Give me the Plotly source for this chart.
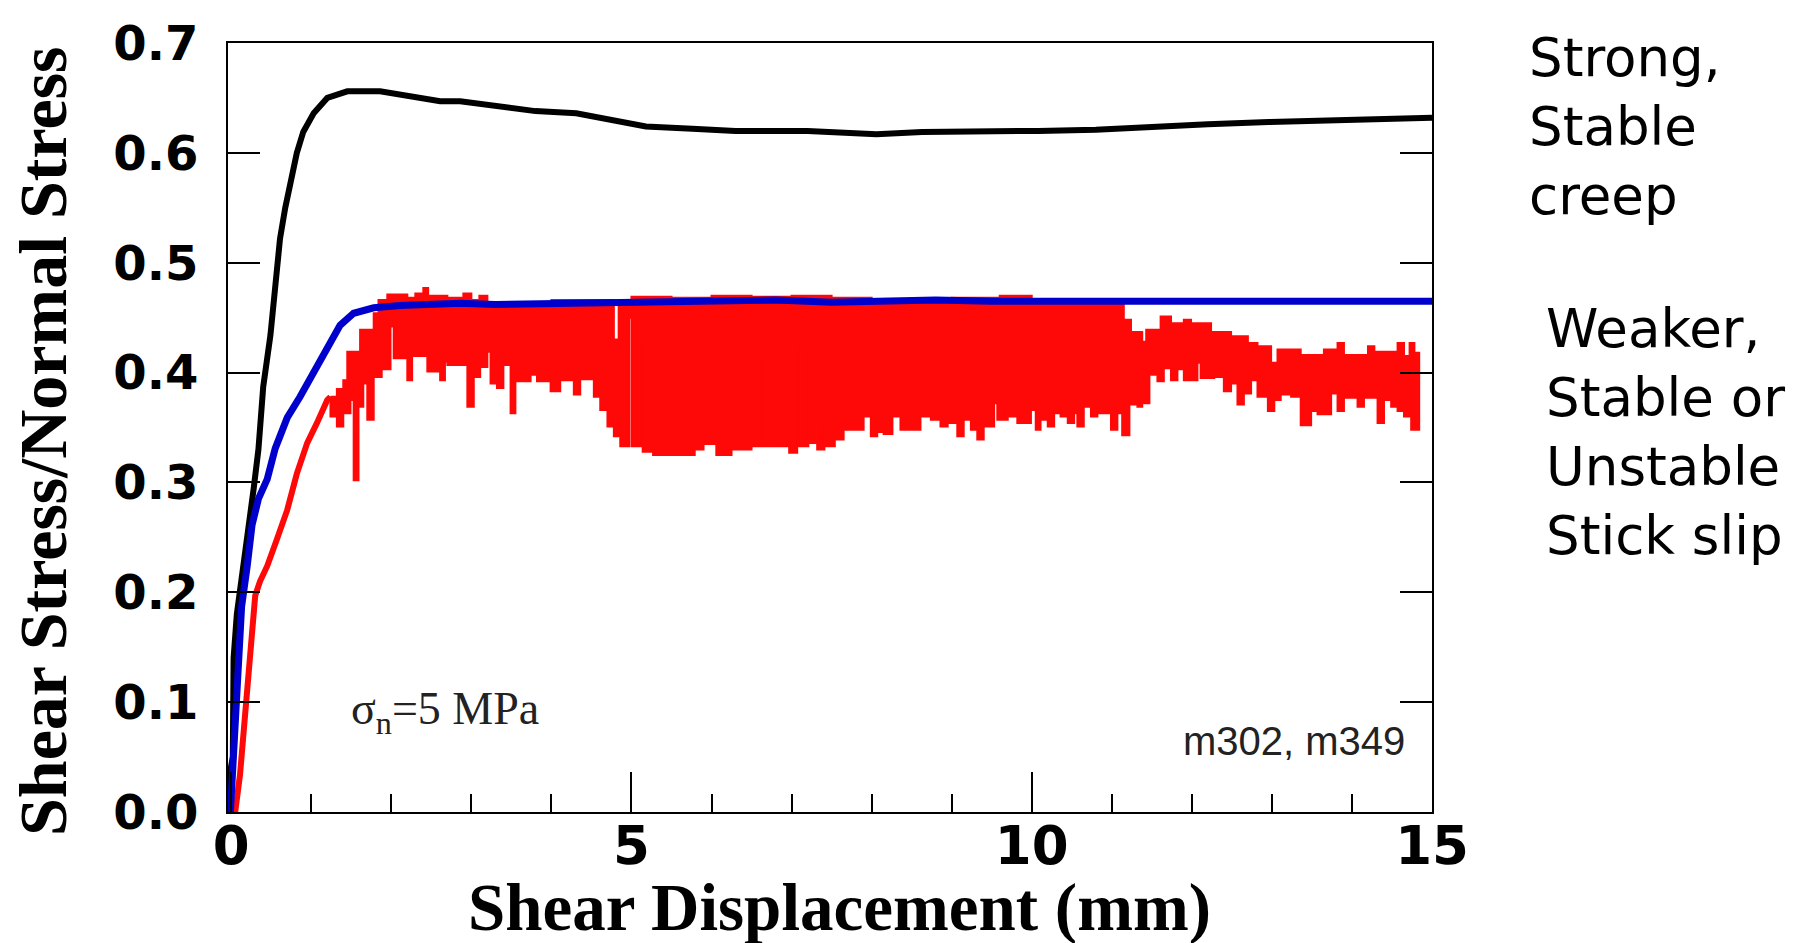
import plotly.graph_objects as go

# ---- data (shear displacement in mm, friction = shear stress / normal stress) ----
# Strong, stable-creep sample (black)
strong_x = [-0.03, -0.03, 0.02, 0.03, 0.07, 0.13, 0.24, 0.28, 0.34, 0.40, 0.49, 0.55,
            0.61, 0.675, 0.74, 0.82, 0.90, 1.03, 1.20, 1.45, 1.86, 2.2, 2.61, 2.86,
            3.43, 3.8, 4.31, 4.75, 5.18, 5.76, 6.3, 7.2, 8.06, 8.63, 9.5, 10.08,
            10.8, 11.5, 12.2, 12.96, 13.7, 14.4, 15.0]
strong_y = [0.0, 0.03, 0.05, 0.14, 0.18, 0.21, 0.266, 0.294, 0.33, 0.387, 0.434, 0.48,
            0.522, 0.55, 0.573, 0.60, 0.619, 0.636, 0.65, 0.656, 0.656, 0.652, 0.647, 0.647,
            0.642, 0.638, 0.636, 0.630, 0.624, 0.622, 0.62, 0.62, 0.617, 0.619, 0.619, 0.62,
            0.621, 0.624, 0.626, 0.628, 0.629, 0.631, 0.632]

# Weaker, stable sample (blue)
stable_x = [-0.01, 0.03, 0.07, 0.13, 0.2, 0.26, 0.34, 0.45, 0.55, 0.70, 0.86, 1.03,
            1.20, 1.36, 1.53, 1.78, 2.11, 2.5, 2.86, 3.3, 4.0, 4.6, 5.0, 5.6, 6.0,
            6.8, 7.5, 8.0, 8.8, 9.5, 10.0, 10.9, 11.5, 12.0, 12.8, 13.5, 14.2, 15.0]
stable_y = [0.0, 0.062, 0.108, 0.187, 0.224, 0.261, 0.285, 0.303, 0.331, 0.359, 0.378, 0.40,
            0.424, 0.443, 0.454, 0.459, 0.461, 0.462, 0.463, 0.462, 0.463, 0.464, 0.464, 0.465, 0.465,
            0.466, 0.464, 0.465, 0.466, 0.465, 0.465, 0.466, 0.465, 0.465, 0.466, 0.465, 0.465, 0.465]

# Stick-slip sample (red): initial loading curve
slip_load_x = [0.0, 0.05, 0.11, 0.175, 0.24, 0.30, 0.36, 0.45, 0.57, 0.70, 0.82, 0.95,
               1.07, 1.20, 1.24]
slip_load_y = [0.0, 0.0, 0.034, 0.094, 0.155, 0.197, 0.21, 0.224, 0.248, 0.275, 0.308, 0.336,
               0.354, 0.375, 0.378]

# Stick-slip band: peak (stick) level per displacement interval
slip_peak_start = [1.24, 1.32, 1.40, 1.45, 1.61, 1.78, 1.84, 1.95, 2.2, 2.3, 2.4, 2.46,
                   2.7, 2.9, 3.0, 3.1, 3.2, 4.0, 4.78, 4.84, 5.0, 5.5, 6.0, 6.5, 7.0,
                   7.5, 8.0, 9.0, 9.6, 10.0, 11.15, 11.24, 11.38, 11.43, 11.61, 11.74,
                   11.9, 11.99, 12.24, 12.49, 12.7, 12.82, 12.99, 13.07, 13.36, 13.65,
                   13.82, 13.9, 14.2, 14.28, 14.57, 14.65, 14.72, 14.78]
slip_peak = [0.378, 0.385, 0.393, 0.419, 0.439, 0.454, 0.466, 0.471, 0.468, 0.472, 0.477, 0.47,
             0.468, 0.472, 0.466, 0.47, 0.464, 0.466, 0.43, 0.466, 0.469, 0.468, 0.47, 0.469, 0.47,
             0.468, 0.466, 0.468, 0.47, 0.466, 0.448, 0.437, 0.428, 0.439, 0.451, 0.445,
             0.448, 0.445, 0.437, 0.433, 0.427, 0.424, 0.409, 0.421, 0.416, 0.421,
             0.427, 0.416, 0.424, 0.419, 0.427, 0.415, 0.427, 0.418]

# Stick-slip band: lowest post-slip level per displacement interval
slip_drop_start = [1.24, 1.32, 1.40, 1.49, 1.53, 1.59, 1.61, 1.65, 1.70, 1.78, 1.88, 1.99,
                   2.03, 2.2, 2.26, 2.45, 2.61, 2.67, 2.7, 2.95, 3.03, 3.11, 3.2, 3.24,
                   3.32, 3.4, 3.49, 3.55, 3.74, 3.82, 3.99, 4.11, 4.28, 4.36, 4.53, 4.61,
                   4.7, 4.78, 4.86, 4.97, 5.0, 5.12, 5.14, 5.25, 5.27, 5.58, 5.60, 5.79,
                   5.81, 5.9, 5.92, 6.04, 6.06, 6.25, 6.27, 6.36, 6.38, 6.5, 6.52, 6.62,
                   6.64, 6.82, 6.84, 6.95, 6.97, 7.07, 7.09, 7.21, 7.23, 7.32, 7.41, 7.43,
                   7.54, 7.56, 7.65, 7.9, 7.99, 8.07, 8.15, 8.26, 8.36, 8.61, 8.74, 8.86,
                   8.95, 9.07, 9.15, 9.24, 9.32, 9.4, 9.53, 9.57, 9.7, 9.82, 9.99, 10.05,
                   10.11, 10.2, 10.28, 10.36, 10.45, 10.53, 10.57, 10.65, 10.74, 10.82,
                   10.99, 11.07, 11.13, 11.22, 11.32, 11.38, 11.47, 11.57, 11.65, 11.74,
                   11.82, 11.9, 12.07, 12.11, 12.28, 12.4, 12.49, 12.57, 12.65, 12.74,
                   12.82, 12.95, 13.03, 13.11, 13.24, 13.36, 13.49, 13.57, 13.74, 13.82,
                   13.9, 14.07, 14.15, 14.32, 14.4, 14.49, 14.57, 14.65, 14.74]
slip_drop = [0.36, 0.351, 0.363, 0.375, 0.302, 0.375, 0.369, 0.39, 0.357, 0.396, 0.403, 0.442,
             0.413, 0.393, 0.415, 0.401, 0.393, 0.41, 0.407, 0.369, 0.396, 0.405, 0.419, 0.39,
             0.386, 0.407, 0.363, 0.392, 0.398, 0.392, 0.383, 0.393, 0.38, 0.394, 0.378, 0.366,
             0.351, 0.342, 0.333, 0.45, 0.333, 0.428, 0.328, 0.372, 0.325, 0.387, 0.325, 0.366,
             0.33, 0.387, 0.335, 0.412, 0.325, 0.372, 0.33, 0.387, 0.33, 0.39, 0.333, 0.415,
             0.333, 0.343, 0.333, 0.409, 0.327, 0.424, 0.333, 0.421, 0.336, 0.33, 0.357, 0.333,
             0.418, 0.339, 0.348, 0.36, 0.342, 0.346, 0.344, 0.36, 0.348, 0.36, 0.357, 0.351,
             0.354, 0.342, 0.357, 0.348, 0.339, 0.351, 0.372, 0.357, 0.36, 0.354, 0.366, 0.348,
             0.357, 0.351, 0.363, 0.36, 0.354, 0.363, 0.351, 0.369, 0.36, 0.363,
             0.348, 0.363, 0.343, 0.371, 0.369, 0.372, 0.398, 0.392, 0.404, 0.393,
             0.403, 0.393, 0.409, 0.395, 0.396, 0.383, 0.39, 0.371, 0.381, 0.393,
             0.378, 0.365, 0.375, 0.38, 0.378, 0.352, 0.365, 0.362, 0.381, 0.365,
             0.377, 0.369, 0.377, 0.354, 0.375, 0.369, 0.365, 0.36, 0.348]
slip_end = 14.84

x_ticks = [0, 5, 10, 15]
y_ticks = [0.0, 0.1, 0.2, 0.3, 0.4, 0.5, 0.6, 0.7]

BLACK = "#000000"
BLUE = "#0000CD"
RED = "#FF0808"


def step_outline(starts, values, end):
    """Turn interval starts + levels into a piecewise-constant outline."""
    xs, ys = [], []
    stops = list(starts[1:]) + [end]
    for s, e, v in zip(starts, stops, values):
        xs += [s, e]
        ys += [v, v]
    return xs, ys


top_x, top_y = step_outline(slip_peak_start, slip_peak, slip_end)
bot_x, bot_y = step_outline(slip_drop_start, slip_drop, slip_end)
band_x = top_x + bot_x[::-1] + [top_x[0]]
band_y = top_y + bot_y[::-1] + [top_y[0]]

fig = go.Figure()

fig.add_trace(go.Scatter(x=band_x, y=band_y, mode="lines", fill="toself",
                         fillcolor=RED, line=dict(color=RED, width=2),
                         hoverinfo="skip", showlegend=False))
fig.add_trace(go.Scatter(x=slip_load_x, y=slip_load_y, mode="lines",
                         line=dict(color=RED, width=6), showlegend=False))
fig.add_trace(go.Scatter(x=strong_x, y=strong_y, mode="lines",
                         line=dict(color=BLACK, width=6), showlegend=False))
fig.add_trace(go.Scatter(x=stable_x, y=stable_y, mode="lines",
                         line=dict(color=BLUE, width=7), showlegend=False))

AXIS_COLOR = "#000000"
tick_font_family = "DejaVu Sans"
title_family = "Liberation Serif"

fig.update_xaxes(
    range=[-0.04, 15.0], showgrid=False, zeroline=False,
    showline=True, linecolor=AXIS_COLOR, linewidth=2, mirror=True,
    ticks="inside", ticklen=40, tickwidth=2, tickcolor=AXIS_COLOR,
    tickvals=x_ticks, ticktext=[str(v) for v in x_ticks],
    tickfont=dict(family=tick_font_family, size=53, color="#000000", weight="bold"),
    ticklabelstandoff=-14,
    minor=dict(dtick=1, tick0=0, ticks="inside", ticklen=18, tickwidth=2,
               tickcolor=AXIS_COLOR, showgrid=False),
)
fig.update_yaxes(
    range=[0, 0.7], showgrid=False, zeroline=False,
    showline=True, linecolor=AXIS_COLOR, linewidth=2, mirror="ticks",
    ticks="inside", ticklen=32, tickwidth=2, tickcolor=AXIS_COLOR,
    tickvals=y_ticks, ticktext=[f"{v:.1f}" for v in y_ticks],
    tickfont=dict(family=tick_font_family, size=48, color="#000000", weight="bold"),
    ticklabelstandoff=18,
)

annotations = [
    # axis titles
    dict(text="Shear Stress/Normal Stress", xref="paper", yref="paper",
         x=-0.1537, y=0.4824, xanchor="center", yanchor="middle", textangle=-90,
         showarrow=False, font=dict(family=title_family, size=68, color="#000000", weight="bold")),
    dict(text="Shear Displacement (mm)", xref="paper", yref="paper",
         x=0.508, y=-0.124, xanchor="center", yanchor="middle",
         showarrow=False, font=dict(family=title_family, size=67, color="#000000", weight="bold")),
    # in-plot labels
    dict(text="σ<sub>n</sub>=5 MPa", xref="x", yref="y", x=1.47, y=0.091,
         xanchor="left", yanchor="middle", showarrow=False,
         font=dict(family=title_family, size=46, color="#222222")),
    dict(text="m302, m349", xref="x", yref="y", x=14.69, y=0.0647,
         xanchor="right", yanchor="middle", showarrow=False,
         font=dict(family="Liberation Sans", size=40, color="#222222")),
    # behaviour notes on the right
    dict(text="Strong,<br>Stable<br>creep", xref="paper", yref="paper",
         x=1.0789, y=1.0234, xanchor="left", yanchor="top", align="left",
         showarrow=False, font=dict(family="DejaVu Sans", size=53, color="#000000")),
    dict(text="Weaker,<br>Stable or<br>Unstable<br>Stick slip", xref="paper", yref="paper",
         x=1.093, y=0.671, xanchor="left", yanchor="top", align="left",
         showarrow=False, font=dict(family="DejaVu Sans", size=53, color="#000000")),
]

fig.update_layout(
    width=1807, height=943,
    margin=dict(l=228, r=375, t=43, b=131, autoexpand=False),
    plot_bgcolor="#FFFFFF", paper_bgcolor="#FFFFFF",
    showlegend=False,
    annotations=annotations,
)

fig.write_html("out.html")
